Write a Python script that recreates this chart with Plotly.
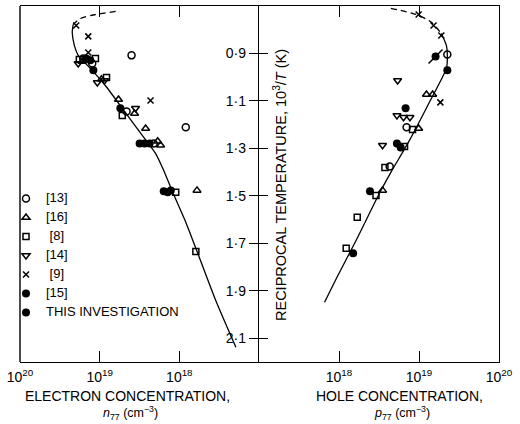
import plotly.graph_objects as go

# ---------------- data ----------------
# reciprocal temperature 10^3/T (K^-1); concentrations in cm^-3
tick_vals = [0.9, 1.1, 1.3, 1.5, 1.7, 1.9, 2.1]
tick_text = ["0·9", "1·1", "1·3", "1·5", "1·7", "1·9", "2·1"]
x_tick_vals_left = [1e20, 1e19, 1e18]
x_tick_vals_right = [1e18, 1e19, 1e20]
x_tick_text_left = ["10<sup>20</sup>", "10<sup>19</sup>", "10<sup>18</sup>"]
x_tick_text_right = ["10<sup>18</sup>", "10<sup>19</sup>", "10<sup>20</sup>"]

# electron concentration (left panel)
n_ref13 = [3.98e18, 1.61e19, 1.24e19, 4.6e18, 8.3e17, 2.1e18]
t_n_ref13 = [0.908, 0.921, 0.942, 1.144, 1.211, 1.279]
n_ref16 = [1.65e19, 9.5e18, 5.8e18, 3.65e18, 2.65e18, 1.87e18, 1.72e18, 6.0e17]
t_n_ref16 = [0.934, 1.009, 1.094, 1.153, 1.216, 1.270, 1.287, 1.477]
n_ref8 = [1.13e19, 1.80e19, 8.2e18, 5.2e18, 1.11e18, 6.2e17]
t_n_ref8 = [0.921, 0.925, 1.001, 1.161, 1.485, 1.734]
n_ref14 = [1.86e19, 1.07e19, 8.7e18, 3.55e18]
t_n_ref14 = [0.942, 1.022, 1.014, 1.131]
n_ref9 = [1.97e19, 1.39e19, 1.39e19, 2.3e18]
t_n_ref9 = [0.782, 0.828, 0.896, 1.098]
n_this = [1.47e19, 1.31e19, 1.2e19, 5.5e18, 3.15e18, 2.73e18, 2.36e18, 1.57e18, 1.40e18, 1.28e18]
t_n_this = [0.921, 0.929, 0.971, 1.131, 1.279, 1.279, 1.279, 1.481, 1.485, 1.477]

n_curve_dash = [6.3e18, 1.13e19, 1.75e19, 2.15e19]
t_n_curve_dash = [0.723, 0.736, 0.753, 0.778]
n_curve = [2.15e19, 2.21e19, 2.08e19, 1.86e19, 1.24e19, 8.5e18, 5.2e18, 3.25e18,
           1.99e18, 1.57e18, 1.21e18, 8.3e17, 6.2e17, 3.5e17, 1.95e17]
t_n_curve = [0.778, 0.811, 0.866, 0.908, 0.971, 1.035, 1.131, 1.224,
             1.321, 1.393, 1.485, 1.611, 1.721, 1.940, 2.138]

# hole concentration (right panel)
p_ref13 = [2.26e19, 7.0e18, 4.3e18]
t_p_ref13 = [0.904, 1.211, 1.376]
p_ref16 = [1.24e19, 1.48e19, 9.9e18, 3.5e18]
t_p_ref16 = [1.073, 1.073, 1.216, 1.477]
p_ref8 = [8.3e18, 6.6e18, 3.75e18, 2.9e18, 1.69e18, 1.23e18]
t_p_ref8 = [1.220, 1.292, 1.380, 1.498, 1.590, 1.721]
p_ref14 = [5.4e18, 5.3e18, 6.4e18, 7.7e18, 3.5e18]
t_p_ref14 = [1.014, 1.161, 1.169, 1.169, 1.287]
p_ref9 = [9.9e18, 1.52e19, 1.9e19, 1.85e19]
t_p_ref9 = [0.736, 0.782, 0.824, 1.106]
p_ref15 = [1.61e19]
t_p_ref15 = [0.913]
p_this = [2.26e19, 6.8e18, 5.3e18, 5.9e18, 2.44e18, 1.5e18]
t_p_this = [0.971, 1.131, 1.279, 1.296, 1.481, 1.742]

p_curve_dash = [4.45e18, 9.3e18, 1.43e19, 1.9e19]
t_p_curve_dash = [0.710, 0.736, 0.769, 0.816]
p_curve = [1.9e19, 2.2e19, 2.26e19, 2.2e19, 1.39e19, 7.6e18, 4.45e18, 3.25e18, 1.64e18, 9.3e17, 6.6e17]
t_p_curve = [0.816, 0.866, 0.908, 0.963, 1.097, 1.266, 1.401, 1.485, 1.687, 1.847, 1.948]

legend_names = ["[13]", "[16]", "\u00a0[8]", "[14]", "\u00a0[9]", "[15]", "THIS INVESTIGATION"]

# ---------------- figure ----------------
W, H = 520, 424
FONT = "Liberation Sans"
BLACK = "black"


def px(x):
    return x / W


def py(y):
    return 1 - y / H


def lg(name):
    return '<span style="font-size:13px">' + name + '</span>'


fig = go.Figure()

# curves
fig.add_trace(go.Scatter(x=n_curve_dash, y=t_n_curve_dash, mode="lines", xaxis="x", yaxis="y",
                         line=dict(color=BLACK, width=1.3, dash="6px,4px", shape="spline", smoothing=0.8),
                         showlegend=False, hoverinfo="skip"))
fig.add_trace(go.Scatter(x=n_curve, y=t_n_curve, mode="lines", xaxis="x", yaxis="y",
                         line=dict(color=BLACK, width=1.3, shape="spline", smoothing=0.6),
                         showlegend=False, hoverinfo="skip"))
fig.add_trace(go.Scatter(x=p_curve_dash, y=t_p_curve_dash, mode="lines", xaxis="x2", yaxis="y",
                         line=dict(color=BLACK, width=1.3, dash="6px,4px", shape="spline", smoothing=0.8),
                         showlegend=False, hoverinfo="skip"))
fig.add_trace(go.Scatter(x=p_curve, y=t_p_curve, mode="lines", xaxis="x2", yaxis="y",
                         line=dict(color=BLACK, width=1.3, shape="spline", smoothing=0.6),
                         showlegend=False, hoverinfo="skip"))

series = [
    (legend_names[0], "circle-open", 7, n_ref13, t_n_ref13, p_ref13, t_p_ref13),
    (legend_names[1], "triangle-up-open", 7, n_ref16, t_n_ref16, p_ref16, t_p_ref16),
    (legend_names[2], "square-open", 6, n_ref8, t_n_ref8, p_ref8, t_p_ref8),
    (legend_names[3], "triangle-down-open", 7, n_ref14, t_n_ref14, p_ref14, t_p_ref14),
    (legend_names[4], "x-thin-open", 6, n_ref9, t_n_ref9, p_ref9, t_p_ref9),
]
for name, sym, size, xl, yl, xr, yr in series:
    mk = dict(symbol=sym, size=size, color=BLACK, line=dict(color=BLACK, width=1.5))
    fig.add_trace(go.Scatter(x=xl, y=yl, mode="markers", xaxis="x", yaxis="y", name=lg(name),
                             legendgroup=name, marker=mk, showlegend=True))
    fig.add_trace(go.Scatter(x=xr, y=yr, mode="markers", xaxis="x2", yaxis="y", name=lg(name),
                             legendgroup=name, marker=mk, showlegend=False))

# [15] filled circle with slash
fig.add_trace(go.Scatter(x=p_ref15, y=t_p_ref15, mode="markers", xaxis="x2", yaxis="y",
                         name=lg(legend_names[5]), legendgroup="[15]",
                         marker=dict(symbol="circle", size=8, color=BLACK, line=dict(width=0))))
fig.add_trace(go.Scatter(x=p_ref15, y=t_p_ref15, mode="markers", xaxis="x2", yaxis="y",
                         name=lg(legend_names[5]), legendgroup="[15]", showlegend=False,
                         marker=dict(symbol="line-ne-open", size=14, color=BLACK,
                                     line=dict(color=BLACK, width=1.5))))

mk_this = dict(symbol="circle", size=8, color=BLACK, line=dict(width=0))
fig.add_trace(go.Scatter(x=n_this, y=t_n_this, mode="markers", xaxis="x", yaxis="y",
                         name=lg(legend_names[6]), legendgroup="this", marker=mk_this))
fig.add_trace(go.Scatter(x=p_this, y=t_p_this, mode="markers", xaxis="x2", yaxis="y",
                         name=lg(legend_names[6]), legendgroup="this", marker=mk_this, showlegend=False))

# dummy trace for the overlay axis (inside ticks on the central axis)
fig.add_trace(go.Scatter(x=[], y=[], xaxis="x2", yaxis="y2", showlegend=False, hoverinfo="skip"))

x0, xm, x1 = 20, 259, 499
ytop, ybot = 6, 362

common_x = dict(type="log", showgrid=False, zeroline=False, showline=True, linecolor=BLACK,
                linewidth=1.4, mirror="ticks", ticks="inside", ticklen=11, tickwidth=1.4,
                tickcolor=BLACK, tickfont=dict(family=FONT, size=14, color=BLACK),
                anchor="y", ticklabelstandoff=2, automargin=False)


def ann(text, x, y, size=14, **kw):
    return dict(text=text, x=px(x), y=py(y), xref="paper", yref="paper", xanchor="center",
                yanchor="middle", showarrow=False, font=dict(family=FONT, size=size, color=BLACK), **kw)


fig.update_layout(
    width=W, height=H,
    margin=dict(l=0, r=0, t=0, b=0, autoexpand=False),
    paper_bgcolor="white", plot_bgcolor="white",
    font=dict(family=FONT, color=BLACK),
    xaxis=dict(domain=[px(x0), px(xm)], range=[20, 17],
               tickvals=x_tick_vals_left, ticktext=x_tick_text_left, **common_x),
    xaxis2=dict(domain=[px(xm), px(x1)], range=[17, 20],
                tickvals=x_tick_vals_right, ticktext=x_tick_text_right, **common_x),
    yaxis=dict(domain=[py(ybot), py(ytop)], range=[2.2, 0.7], anchor="x2", side="left",
               showgrid=False, zeroline=False, showline=True, linecolor=BLACK, linewidth=1.4,
               mirror=True, ticks="outside", ticklen=9, tickwidth=1.4, tickcolor=BLACK,
               tickvals=tick_vals, ticktext=tick_text, automargin=False,
               tickfont=dict(family=FONT, size=14, color=BLACK)),
    yaxis2=dict(domain=[py(ybot), py(ytop)], range=[2.2, 0.7], anchor="x2", side="left",
                overlaying="y", showgrid=False, zeroline=False, showline=False,
                ticks="inside", ticklen=9, tickwidth=1.4, tickcolor=BLACK,
                tickvals=tick_vals, showticklabels=False, automargin=False),
    legend=dict(x=px(6), y=py(184), xanchor="left", yanchor="top",
                bgcolor="rgba(0,0,0,0)", borderwidth=0,
                font=dict(family=FONT, size=10, color=BLACK), tracegroupgap=0,
                itemclick=False),
    showlegend=True,
    shapes=[dict(type="line", xref="paper", yref="paper", x0=px(x0), x1=px(x0),
                 y0=py(ybot), y1=py(ytop), line=dict(color=BLACK, width=1.4))],
    annotations=[
        ann("ELECTRON CONCENTRATION,", 127, 396),
        ann("<i>n</i><sub>77</sub> (cm<sup>−3</sup>)", 130, 413, size=12.5),
        ann("HOLE CONCENTRATION,", 399, 396),
        ann("<i>p</i><sub>77</sub> (cm<sup>−3</sup>)", 402, 413, size=12.5),
        ann("RECIPROCAL TEMPERATURE, 10<sup>3</sup>/<i>T</i> (K)", 280, 185, size=14.5, textangle=-90),
    ],
)

fig.write_html("out.html")
